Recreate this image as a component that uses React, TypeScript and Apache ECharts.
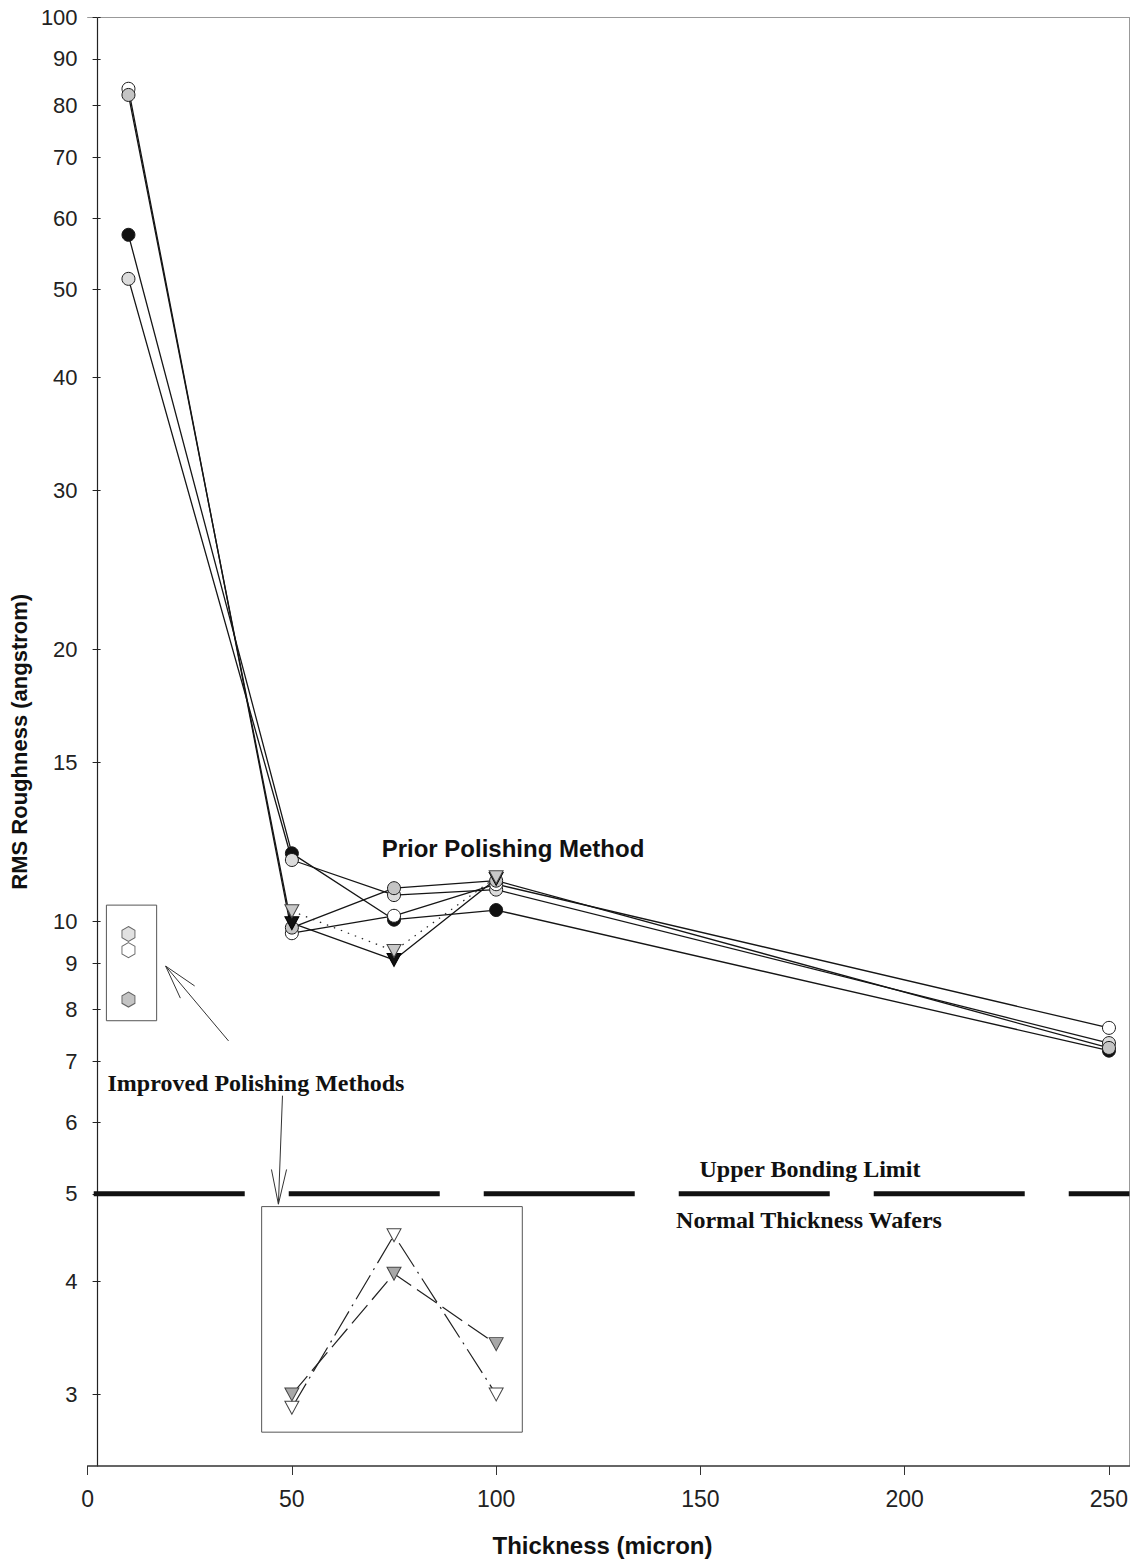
import React, { useEffect, useRef } from "react";
import * as echarts from "echarts";

// ---- axis ticks ----
const yTickValues = [3, 4, 5, 6, 7, 8, 9, 10, 15, 20, 30, 40, 50, 60, 70, 80, 90, 100];
const xTickValues = [0, 50, 100, 150, 200, 250];

// ---- prior polishing method ----
const priorX = [10, 50, 75, 100, 250];
const priorBlackCircle = [57.5, 11.9, 10.05, 10.3, 7.2];
const priorLightCircle = [51.4, 11.7, 10.7, 10.85, 7.34];
const priorOpenCircle = [83.4, 9.71, 10.15, 11.0, 7.63];
const priorGrayCircle = [82.1, 9.85, 10.89, 11.1, 7.25];

const triangleX = [50, 75, 100];
const priorBlackTriangle = [9.96, 9.07, 11.15];
const priorGrayTriangle = [10.27, 9.28, 11.2];

// ---- improved polishing methods ----
const hexX = [10];
const improvedHexLight = [9.69];
const improvedHexOpen = [9.3];
const improvedHexDark = [8.2];
const improvedOpenTriangle = [2.9, 4.5, 3.0];
const improvedGrayTriangle = [3.0, 4.08, 3.41];

// ---- reference limit ----
const bondingLimit = 5;
const limitRange = [1.5, 255];

// ---- annotation boxes and arrows (data coordinates) ----
const hexBoxX = [4.6, 16.9];
const hexBoxY = [7.77, 10.43];
const triBoxX = [42.6, 106.4];
const triBoxY = [2.725, 4.84];
const arrow1 = [[34.5, 7.38], [19.1, 8.93]];
const arrow1Head = [[26.2, 8.49], [19.1, 8.93], [22.7, 8.23]];
const arrow2 = [[47.7, 6.42], [46.7, 4.87]];
const arrow2Head = [[45.0, 5.32], [46.7, 4.87], [48.7, 5.32]];

const zip = (xs: number[], ys: number[]) => xs.map((x, i) => [x, ys[i]]);
const boxPath = (bx: number[], by: number[]) => [
  [bx[0], by[1]], [bx[1], by[1]], [bx[1], by[0]], [bx[0], by[0]], [bx[0], by[1]],
];

const HEX = "path://M0,-1 L0.866,-0.5 L0.866,0.5 L0,1 L-0.866,0.5 L-0.866,-0.5 Z";
const SANS = "Arial, 'Liberation Sans', sans-serif";
const SERIF = "'Times New Roman', 'Liberation Serif', serif";

export default function App() {
  const ref = useRef<HTMLDivElement>(null);
  useEffect(() => {
    document.body.style.margin = "0";
    if (!ref.current) return;
    const chart = echarts.init(ref.current, null, { renderer: "svg" });

    const lineBase = { color: "#151515", width: 1.3 };
    const circleSeries = (name: string, ys: number[], fill: string, z: number) => ({
      name,
      type: "line",
      data: zip(priorX, ys),
      symbol: "circle",
      symbolSize: 13,
      lineStyle: { ...lineBase },
      itemStyle: { color: fill, borderColor: "#1a1a1a", borderWidth: 1 },
      z,
    });
    const guide = (data: number[][], extra: any = {}) => ({
      type: "line",
      data,
      symbol: "none",
      silent: true,
      lineStyle: { color: "#333", width: 1, ...extra },
      z: 1,
    });
    const textStyle = (text: string, font: string) => ({
      text,
      font,
      fill: "#111",
      textAlign: "center",
      textVerticalAlign: "middle",
      align: "center",
      verticalAlign: "middle",
    });

    chart.setOption({
      animation: false,
      backgroundColor: "#fff",
      grid: { left: 87, top: 17.5, width: 1042.4, height: 1450.8, containLabel: false },
      xAxis: [
        {
          type: "value",
          min: 0,
          max: 255,
          axisLine: { show: true, onZero: false, lineStyle: { color: "#333", width: 1.5 } },
          axisTick: { show: true, length: 9, customValues: xTickValues, lineStyle: { color: "#333" } },
          axisLabel: { customValues: xTickValues, fontSize: 23, color: "#222", margin: 21, fontFamily: SANS },
          splitLine: { show: false },
          name: "Thickness (micron)",
          nameLocation: "middle",
          nameGap: 67,
          nameTextStyle: { fontSize: 24, fontWeight: "bold", fontFamily: SANS, color: "#111", padding: [0, 12, 0, 0] },
        },
        {
          type: "value",
          position: "top",
          min: 0,
          max: 255,
          axisLine: { show: true, onZero: false, lineStyle: { color: "#999", width: 1 } },
          axisTick: { show: false },
          axisLabel: { show: false },
          splitLine: { show: false },
        },
      ],
      yAxis: [
        {
          type: "log",
          logBase: 10,
          min: 2.5,
          max: 100,
          offset: -10,
          axisLine: { show: true, onZero: false, lineStyle: { color: "#222", width: 1.2 } },
          axisTick: { show: true, length: 5, customValues: yTickValues, lineStyle: { color: "#222" } },
          axisLabel: { customValues: yTickValues, fontSize: 22, color: "#222", margin: 20, fontFamily: SANS },
          splitLine: { show: false },
          minorTick: { show: false },
          name: "RMS Roughness (angstrom)",
          nameLocation: "middle",
          nameGap: 62,
          nameTextStyle: { fontSize: 22, fontWeight: "bold", fontFamily: SANS, color: "#111" },
        },
        {
          type: "log",
          logBase: 10,
          min: 2.5,
          max: 100,
          position: "right",
          axisLine: { show: true, onZero: false, lineStyle: { color: "#999", width: 1 } },
          axisTick: { show: false },
          axisLabel: { show: false },
          splitLine: { show: false },
        },
        {
          type: "log",
          logBase: 10,
          min: 2.5,
          max: 100,
          position: "left",
          offset: -10,
          axisLine: { show: false },
          axisTick: { show: true, inside: true, length: 3, customValues: yTickValues, lineStyle: { color: "#222" } },
          axisLabel: { show: false },
          splitLine: { show: false },
        },
      ],
      series: [
        // reference limit
        {
          type: "line",
          data: [[limitRange[0], bondingLimit], [limitRange[1], bondingLimit]],
          symbol: "none",
          silent: true,
          lineStyle: { color: "#111", width: 5, type: [151, 44] },
          z: 1,
        },
        guide(boxPath(hexBoxX, hexBoxY), { color: "#555" }),
        guide(boxPath(triBoxX, triBoxY), { color: "#555" }),
        guide(arrow1),
        guide(arrow1Head),
        guide(arrow2),
        guide(arrow2Head),
        circleSeries("Prior A", priorBlackCircle, "#111", 3),
        circleSeries("Prior B", priorLightCircle, "#dcdcdc", 3),
        circleSeries("Prior C", priorOpenCircle, "#ffffff", 3),
        circleSeries("Prior D", priorGrayCircle, "#c4c4c4", 3),
        {
          name: "Prior E",
          type: "line",
          data: zip(triangleX, priorBlackTriangle),
          symbol: "triangle",
          symbolRotate: 180,
          symbolSize: [14, 13],
          lineStyle: { ...lineBase },
          itemStyle: { color: "#111", borderColor: "#000", borderWidth: 1 },
          z: 3,
        },
        {
          name: "Prior F",
          type: "line",
          data: zip(triangleX, priorGrayTriangle),
          symbol: "triangle",
          symbolRotate: 180,
          symbolSize: [14, 13],
          lineStyle: { color: "#222", width: 1.2, type: [1.5, 6] },
          itemStyle: { color: "#c8c8c8", borderColor: "#444", borderWidth: 1 },
          z: 4,
        },
        {
          name: "Improved hex 1",
          type: "scatter",
          data: zip(hexX, improvedHexLight),
          symbol: HEX,
          symbolSize: [13, 15],
          itemStyle: { color: "#d9d9d9", borderColor: "#444", borderWidth: 1 },
          z: 3,
        },
        {
          name: "Improved hex 2",
          type: "scatter",
          data: zip(hexX, improvedHexOpen),
          symbol: HEX,
          symbolSize: [13, 15],
          itemStyle: { color: "#ffffff", borderColor: "#444", borderWidth: 1 },
          z: 3,
        },
        {
          name: "Improved hex 3",
          type: "scatter",
          data: zip(hexX, improvedHexDark),
          symbol: HEX,
          symbolSize: [13, 15],
          itemStyle: { color: "#b5b5b5", borderColor: "#444", borderWidth: 1 },
          z: 3,
        },
        {
          name: "Improved triangle open",
          type: "line",
          data: zip(triangleX, improvedOpenTriangle),
          symbol: "triangle",
          symbolRotate: 180,
          symbolSize: [14, 13],
          lineStyle: { color: "#222", width: 1.2, type: [28, 6, 2, 6] },
          itemStyle: { color: "#ffffff", borderColor: "#444", borderWidth: 1 },
          z: 3,
        },
        {
          name: "Improved triangle gray",
          type: "line",
          data: zip(triangleX, improvedGrayTriangle),
          symbol: "triangle",
          symbolRotate: 180,
          symbolSize: [14, 13],
          lineStyle: { color: "#222", width: 1.2, type: [24, 7] },
          itemStyle: { color: "#a8a8a8", borderColor: "#444", borderWidth: 1 },
          z: 3,
        },
      ],
      graphic: [
        { type: "text", x: 513, y: 848, style: textStyle("Prior Polishing Method", `bold 24px ${SANS}`) },
        { type: "text", x: 256, y: 1083, style: textStyle("Improved Polishing Methods", `bold 24px ${SERIF}`) },
        { type: "text", x: 810, y: 1169, style: textStyle("Upper Bonding Limit", `bold 24px ${SERIF}`) },
        { type: "text", x: 809, y: 1220, style: textStyle("Normal Thickness Wafers", `bold 24px ${SERIF}`) },
      ],
    });
    return () => chart.dispose();
  }, []);
  return <div ref={ref} style={{ width: 1136, height: 1562 }} />;
}
